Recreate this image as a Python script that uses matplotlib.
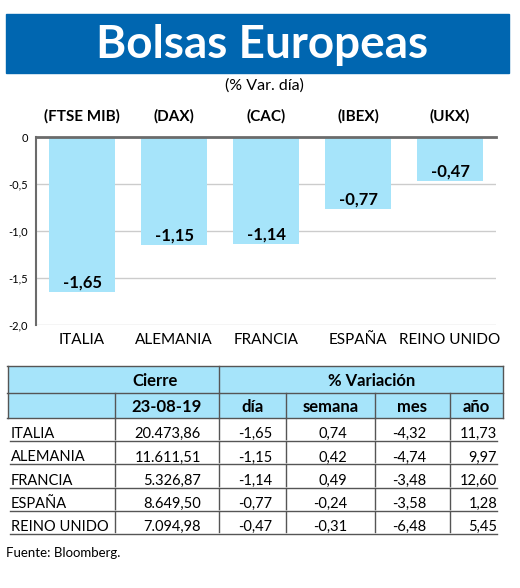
import matplotlib
matplotlib.use('Agg')
import matplotlib.pyplot as plt
from matplotlib.patches import Rectangle

paises = ['ITALIA', 'ALEMANIA', 'FRANCIA', 'ESPAÑA', 'REINO UNIDO']
indices = ['(FTSE MIB)', '(DAX)', '(CAC)', '(IBEX)', '(UKX)']
var_dia = [-1.65, -1.15, -1.14, -0.77, -0.47]
y_ticks = [0, -0.5, -1.0, -1.5, -2.0]
y_tick_labels = ['0', '-0,5', '-1,0', '-1,5', '-2,0']

cierre = ['20.473,86', '11.611,51', '5.326,87', '8.649,50', '7.094,98']
dia = ['-1,65', '-1,15', '-1,14', '-0,77', '-0,47']
semana = ['0,74', '0,42', '0,49', '-0,24', '-0,31']
mes = ['-4,32', '-4,74', '-3,48', '-3,58', '-6,48']
anio = ['11,73', '9,97', '12,60', '1,28', '5,45']
col_heads = ['23-08-19', 'día', 'semana', 'mes', 'año']

W, H = 520, 588
AZUL = '#0066b0'
CELESTE = '#a6e4fa'
FAM = ['Lato', 'DejaVu Sans']

fig = plt.figure(figsize=(W / 100, H / 100), dpi=100)


def box(x0, y0, x1, y1):
    # pixel box (top-left origin) -> figure fraction rect
    return [x0 / W, 1 - y1 / H, (x1 - x0) / W, (y1 - y0) / H]


# banner
fig.patches.append(Rectangle((6 / W, 1 - 73 / H), 503 / W, 59 / H,
                             transform=fig.transFigure, color=AZUL))
fig.text(262 / W, 1 - 45 / H, 'Bolsas Europeas', color='white', fontsize=33,
         fontweight='bold', family=FAM, ha='center', va='center')
fig.text(264 / W, 1 - 86 / H, '(% Var. día)', fontsize=11.5, family=FAM,
         ha='center', va='center')

# bar chart
ax = fig.add_axes(box(36, 137, 496, 325))
x = list(range(len(paises)))
ax.bar(x, var_dia, width=0.72, color=CELESTE, zorder=2)
ax.set_xlim(-0.5, len(paises) - 0.5)
ax.set_ylim(-2.0, 0)
ax.set_yticks(y_ticks)
ax.set_yticklabels(y_tick_labels, family=FAM, fontsize=8)
ax.tick_params(axis='y', length=0, pad=6)
ax.set_xticks(x)
ax.set_xticklabels(paises, family=FAM, fontsize=11)
ax.tick_params(axis='x', length=0, pad=6)
ax.grid(axis='y', color='#cccccc', lw=1, zorder=0)
for s in ['right', 'bottom']:
    ax.spines[s].set_visible(False)
ax.spines['top'].set_color('#6b6b6b')
ax.spines['top'].set_linewidth(2)
ax.spines['left'].set_color('#6b6b6b')
ax.spines['left'].set_linewidth(1.5)

for i, v in enumerate(var_dia):
    ax.text(i, v + 0.1, f'{v:.2f}'.replace('.', ','), ha='center', va='center',
            fontsize=12, fontweight='bold', family=FAM, zorder=3)
    ax.text(i, 0.22, indices[i], ha='center', va='center', fontsize=11,
            fontweight='bold', family=FAM, clip_on=False)

# table
tx = fig.add_axes(box(0, 360, 520, 540))
tx.set_xlim(0, 520)
tx.set_ylim(540, 360)
tx.axis('off')

left, right = 8, 503
top, mid, hbot = 366, 393, 418
row_h = 23.2
col_edges = [115, 219, 286, 375, 450]
col_right = [201, 272, 347, 426, 497]
line_c = '#555555'

tx.add_patch(Rectangle((left, top), right - left, hbot - top,
                       facecolor=CELESTE, edgecolor='none'))
for yy in [top, mid, hbot]:
    tx.plot([left - 1, right], [yy, yy], color=line_c, lw=1)
tx.plot([left, left], [top, hbot], color=line_c, lw=1)
tx.plot([right, right], [top, hbot], color=line_c, lw=1)
tx.plot([219, 219], [top, mid], color=line_c, lw=1)
for xe in col_edges:
    tx.plot([xe, xe], [mid, hbot], color=line_c, lw=1)

tx.text(155, (top + mid) / 2 + 1, 'Cierre', ha='center', va='center',
        fontsize=12, fontweight='bold', family=FAM)
tx.text(372, (top + mid) / 2 + 1, '% Variación', ha='center', va='center',
        fontsize=12, fontweight='bold', family=FAM)
head_x = [115] + col_edges[1:] + [right]
for j, h in enumerate(col_heads):
    cx = (head_x[j] + head_x[j + 1]) / 2
    tx.text(cx, (mid + hbot) / 2 + 1, h, ha='center', va='center',
            fontsize=12, fontweight='bold', family=FAM)

columnas = [cierre, dia, semana, mes, anio]
n = len(paises)
for i in range(n):
    y_top = hbot + i * row_h
    y_bot = hbot + (i + 1) * row_h
    tx.plot([10, 497], [y_bot, y_bot], color=line_c, lw=1)
    for xe in col_edges:
        tx.plot([xe, xe], [y_top, y_bot - 2], color=line_c, lw=1)
    tx.text(11, y_bot - 3, paises[i], ha='left', va='baseline', fontsize=10.5,
            family=FAM)
    for j, col in enumerate(columnas):
        tx.text(col_right[j], y_bot - 3, col[i], ha='right', va='baseline',
                fontsize=10.5, family=FAM)

fig.text(6 / W, 1 - 553 / H, 'Fuente: Bloomberg.', fontsize=9.5, family=FAM,
         ha='left', va='center')

fig.savefig('out.png', dpi=100)
